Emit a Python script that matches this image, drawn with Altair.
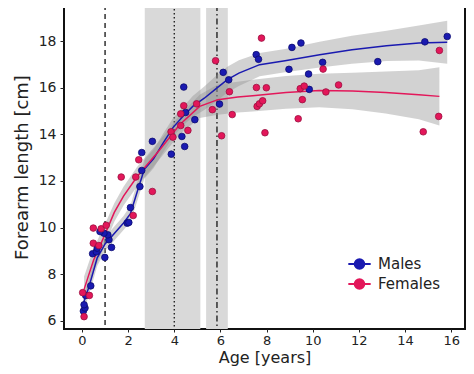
import altair as alt
import pandas as pd

# ---------------- data ----------------
male_age = [0.06, 0.13, 0.09, 0.16, 0.38, 0.46, 0.62, 0.66, 0.99, 1.28, 1.17, 1.12, 0.95, 0.78,
            1.96, 2.03, 2.10, 2.51, 2.59, 2.59, 3.05, 3.87, 4.45, 4.33, 4.89, 4.49, 4.41,
            5.96, 6.12, 6.36, 7.55, 7.65, 9.10, 9.49, 8.97, 9.82, 10.43, 9.85, 12.82, 14.86, 15.83]
male_len = [6.42, 6.55, 6.69, 7.09, 7.50, 8.88, 8.96, 9.12, 8.72, 9.15, 9.48, 9.69, 9.76, 9.83,
            10.19, 10.22, 10.86, 11.76, 12.45, 13.22, 13.70, 13.15, 13.48, 13.91, 14.63, 14.94, 16.03,
            15.30, 16.66, 16.34, 17.42, 17.22, 17.73, 17.92, 16.79, 16.59, 17.09, 15.93, 17.12, 17.97, 18.20]

female_age = [0.09, 0.03, 0.32, 0.49, 0.73, 0.49, 0.83, 1.05, 2.22, 1.70, 2.33, 2.46, 3.05,
              3.86, 3.94, 4.28, 4.59, 4.28, 4.41, 4.97, 5.65, 5.79, 6.05, 6.39, 6.51,
              7.56, 7.99, 7.59, 7.69, 7.83, 7.78, 7.93, 9.37, 9.46, 9.55, 9.63,
              10.45, 10.57, 11.12, 14.79, 15.46, 15.49]
female_len = [6.18, 7.21, 7.09, 9.33, 9.23, 9.98, 9.95, 10.10, 10.52, 12.17, 12.17, 12.91, 11.55,
              14.11, 13.88, 14.38, 14.17, 14.88, 15.23, 15.31, 15.06, 17.16, 13.94, 15.83, 14.85,
              16.01, 16.00, 15.20, 15.31, 15.44, 18.13, 14.07, 14.67, 15.96, 15.49, 16.07,
              16.80, 15.82, 16.12, 14.11, 14.77, 17.60]

# smoothed fits and their confidence half-widths
male_fit_x = [0.06, 0.30, 0.66, 1.00, 1.40, 1.80, 2.10, 2.35, 2.70, 3.10, 3.50, 3.95, 4.40,
              4.80, 5.30, 5.80, 6.30, 6.80, 7.70, 8.80, 10.30, 11.70, 13.20, 14.60, 15.83]
male_fit_y = [6.75, 7.45, 8.70, 9.30, 9.75, 10.20, 10.60, 11.40, 12.50, 12.95, 13.60, 14.30, 14.80,
              15.20, 15.55, 15.95, 16.35, 16.63, 16.99, 17.16, 17.42, 17.63, 17.80, 17.92, 17.95]
male_fit_se = [0.35, 0.35, 0.35, 0.30, 0.30, 0.30, 0.35, 0.40, 0.40, 0.40, 0.40, 0.40, 0.40,
               0.45, 0.50, 0.55, 0.55, 0.55, 0.50, 0.50, 0.55, 0.60, 0.65, 0.75, 0.92]

female_fit_x = [0.09, 0.50, 0.95, 1.40, 1.80, 2.40, 3.37, 4.23, 5.10, 5.89, 6.75, 7.40,
                8.84, 10.28, 11.72, 13.16, 14.60, 15.49]
female_fit_y = [7.35, 8.60, 9.60, 10.65, 11.35, 12.20, 13.34, 14.41, 15.20, 15.49, 15.60, 15.66,
                15.80, 15.88, 15.86, 15.80, 15.70, 15.63]
female_fit_se = [0.55, 0.50, 0.45, 0.40, 0.40, 0.42, 0.40, 0.40, 0.50, 0.65, 0.66, 0.68,
                 0.70, 0.72, 0.78, 0.90, 1.05, 1.25]

groups = ["Males", "Females"]
band_start = [2.72, 5.38]
band_end = [5.13, 6.32]
line_dashed = [1.0]
line_dotted = [4.0]
line_dashdot = [5.85]

x_ticks = [0, 2, 4, 6, 8, 10, 12, 14, 16]
y_ticks = [6, 8, 10, 12, 14, 16, 18]

# ---------------- tables ----------------
pts = pd.DataFrame({
    "age": male_age + female_age,
    "len": male_len + female_len,
    "sex": ["Males"] * len(male_age) + ["Females"] * len(female_age),
})
fit = pd.DataFrame({
    "age": male_fit_x + female_fit_x,
    "fit": male_fit_y + female_fit_y,
    "lo": [y - s for y, s in zip(male_fit_y, male_fit_se)] + [y - s for y, s in zip(female_fit_y, female_fit_se)],
    "hi": [y + s for y, s in zip(male_fit_y, male_fit_se)] + [y + s for y, s in zip(female_fit_y, female_fit_se)],
    "sex": ["Males"] * len(male_fit_x) + ["Females"] * len(female_fit_x),
})
bands = pd.DataFrame({"x0": band_start, "x1": band_end})

FONT = "DejaVu Sans"
xs = alt.Scale(domain=[-0.78, 16.6], nice=False, zero=False)
ys = alt.Scale(domain=[5.65, 19.55], nice=False, zero=False)
xax = alt.Axis(values=x_ticks, title="Age [years]", grid=False,
               titleY=33, titleBaseline="alphabetic", titleFontSize=16,
               labelFontSize=13, labelPadding=2, tickSize=3)
yax = alt.Axis(values=y_ticks, title="Forearm length [cm]", grid=False)

colors = alt.Scale(domain=groups, range=["#1a1ab0", "#e3175a"])
point_stroke = alt.Scale(domain=groups, range=["#0b0b70", "#9a1040"])

sym_path = "M-1,0L1,0M-0.42,0A0.42,0.42,0,1,1,0.42,0A0.42,0.42,0,1,1,-0.42,0Z"

vband = alt.Chart(bands).mark_rect(color="#d9d9d9").encode(
    x=alt.X("x0:Q", scale=xs, axis=xax), x2="x1:Q")

def vrule(vals, dash):
    return alt.Chart(pd.DataFrame({"v": vals})).mark_rule(
        color="#222222", strokeWidth=1.4, strokeDash=dash).encode(x=alt.X("v:Q", scale=xs))

r1 = vrule(line_dashed, [5, 4])
r2 = vrule(line_dotted, [1.5, 2.5])
r3 = vrule(line_dashdot, [6, 3, 1.5, 3])

ci = alt.Chart(fit).mark_area(color="#8f8f8f", opacity=0.4).encode(
    x=alt.X("age:Q", scale=xs),
    y=alt.Y("lo:Q", scale=ys, axis=yax),
    y2="hi:Q",
    detail="sex:N",
)

lines = alt.Chart(fit).mark_line(strokeWidth=1.5).encode(
    x=alt.X("age:Q", scale=xs),
    y=alt.Y("fit:Q", scale=ys),
    color=alt.Color("sex:N", scale=colors, legend=alt.Legend(
        title=None, orient="none", legendX=283, legendY=249,
        symbolType=sym_path, symbolSize=500, symbolStrokeWidth=2.2,
        labelFont=FONT, labelFontSize=15, labelColor="#222222", labelOffset=6,
        rowPadding=0, clipHeight=20)),
)

points = alt.Chart(pts).mark_point(filled=True, size=44, opacity=1, strokeWidth=0.8).encode(
    x=alt.X("age:Q", scale=xs),
    y=alt.Y("len:Q", scale=ys),
    color=alt.Color("sex:N", scale=colors, legend=None),
    stroke=alt.Stroke("sex:N", scale=point_stroke, legend=None),
)

chart = alt.layer(vband, r1, r2, r3, ci, lines, points).resolve_scale(
    stroke="independent"
).properties(
    width=401, height=324,
    autosize=alt.AutoSizeParams(type="none"),
    padding={"left": 56, "top": -3, "right": 1, "bottom": 37},
).configure_view(
    stroke="#111111", strokeWidth=2
).configure_axis(
    labelFont=FONT, labelFontSize=14, labelColor="#222222",
    titleFont=FONT, titleFontSize=18, titleColor="#222222", titleFontWeight="normal",
    domain=False, tickColor="#222222", tickSize=4, labelPadding=4,
).configure_axisY(titlePadding=7)

chart.save("out.html", embed_options={"renderer": "svg", "actions": False})
